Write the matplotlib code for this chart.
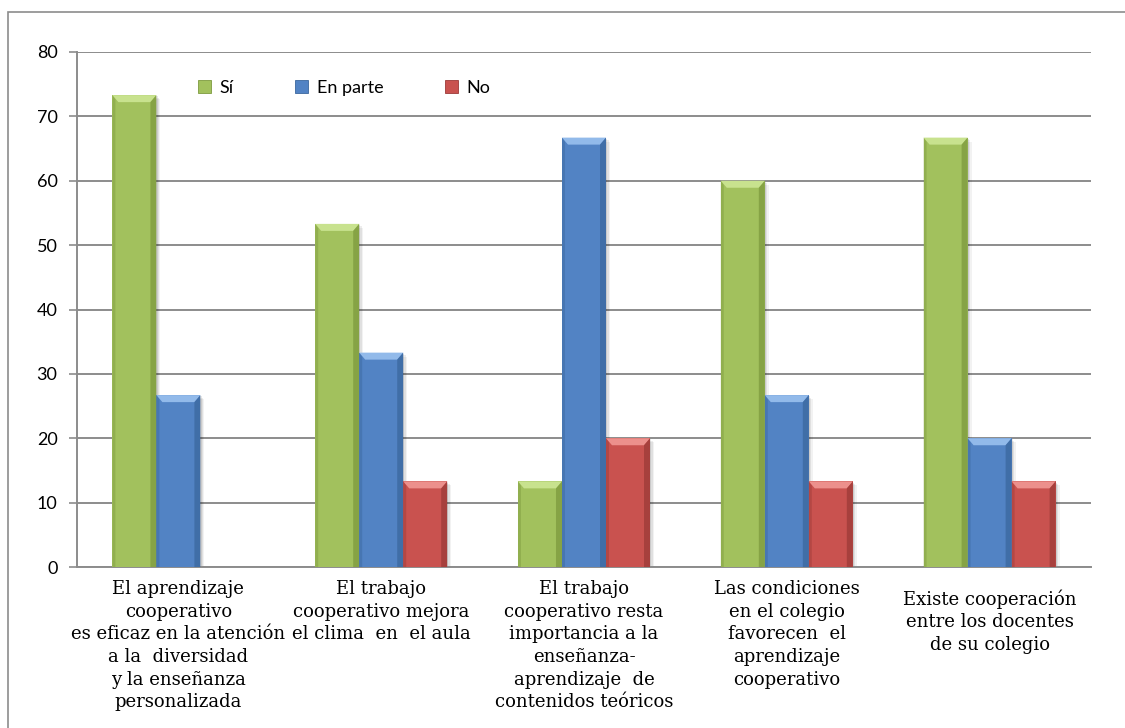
import numpy as np
import matplotlib
matplotlib.use("Agg")
import matplotlib.pyplot as plt
from matplotlib.patches import Polygon, Rectangle, Patch

# Survey answers (%) per statement
categorias = [
    "El aprendizaje\ncooperativo\nes eficaz en la atención\na la  diversidad\ny la enseñanza\npersonalizada",
    "El trabajo\ncooperativo mejora\nel clima  en  el aula",
    "El trabajo\ncooperativo resta\nimportancia a la\nenseñanza-\naprendizaje  de\ncontenidos teóricos",
    "Las condiciones\nen el colegio\nfavorecen  el\naprendizaje\ncooperativo",
    "Existe cooperación\nentre los docentes\nde su colegio",
]
si = [73.3, 53.3, 13.3, 60.0, 66.7]
en_parte = [26.7, 33.3, 66.7, 26.7, 20.0]
no = [0.0, 13.3, 20.0, 13.3, 13.3]
series_names = ["Sí", "En parte", "No"]
yticks = [0, 10, 20, 30, 40, 50, 60, 70, 80]

colors = ["#A2C15D", "#5283C4", "#C9524F"]
light = ["#C8E28E", "#92BAEA", "#EC908C"]
dark = ["#7D9A3E", "#3B679E", "#9C3A37"]

W, H = 1125, 728
fig = plt.figure(figsize=(W / 100, H / 100), dpi=100)
ax = fig.add_axes([77 / W, 1 - 567 / H, (1091 - 77) / W, (567 - 52) / H])

# outer chart frame (right/bottom edges fall outside the image)
fig.patches.append(Rectangle((8 / W, -0.1), 1.2, 1 - 12 / H + 0.1,
                             transform=fig.transFigure, fill=False,
                             edgecolor="#8C8C8C", linewidth=1.2))

x = np.arange(len(categorias))
bw = 0.217
px_x = 1.0 / 202.8          # one pixel in x data units
px_y = 80.0 / 515           # one pixel in y data units
bx, by = 6 * px_x, 7 * px_y


def bevel_bar(x0, h, i):
    """Draw one bar with a bevelled top and shaded sides."""
    if h <= 0:
        return
    x1 = x0 + bw
    # soft shadow on the right
    for k, a in [(4, 0.05), (2.5, 0.07), (1.2, 0.09)]:
        ax.add_patch(Rectangle((x0 + k * px_x, 0), bw, h - k * px_y,
                               facecolor="black", alpha=a, linewidth=0, zorder=2))
    ax.bar(x0, h, bw, align="edge", color=colors[i], linewidth=0, zorder=3)
    top = Polygon([(x0, h), (x1, h), (x1 - bx, h - by), (x0 + bx, h - by)],
                  closed=True, facecolor=light[i], linewidth=0, zorder=4)
    left = Polygon([(x0, 0), (x0 + bx * 0.5, 0), (x0 + bx * 0.5, h - by * 0.6), (x0, h)],
                   closed=True, facecolor=dark[i], alpha=0.45, linewidth=0, zorder=4)
    right = Polygon([(x1 - bx, 0), (x1, 0), (x1, h), (x1 - bx, h - by)],
                    closed=True, facecolor=dark[i], alpha=0.75, linewidth=0, zorder=4)
    for p in (top, left, right):
        ax.add_patch(p)


for i, vals in enumerate([si, en_parte, no]):
    for j, v in enumerate(vals):
        bevel_bar(x[j] - 1.5 * bw + i * bw, v, i)

ax.set_xlim(-0.5, len(categorias) - 0.5)
ax.set_ylim(0, 80)
ax.set_yticks(yticks)
ax.set_yticklabels([str(t) for t in yticks], fontsize=13, family="Lato")
ax.tick_params(axis="y", length=6, width=1.2, color="#8C8C8C", pad=8)
ax.grid(axis="y", color="#8C8C8C", linewidth=1.4, zorder=0)
ax.set_axisbelow(True)
for side in ["top", "right"]:
    ax.spines[side].set_visible(False)
ax.spines["left"].set_color("#8C8C8C")
ax.spines["left"].set_linewidth(1.4)
ax.spines["bottom"].set_color("#8C8C8C")
ax.spines["bottom"].set_linewidth(1.4)
ax.set_xticks(x)
ax.set_xticklabels([])
ax.tick_params(axis="x", length=0)

# category labels; the last one sits a little lower
offsets = [-9.5, -9.5, -9.5, -9.5, -16]
for j, lab in enumerate(categorias):
    ax.annotate(lab, (x[j], 0), xytext=(0, offsets[j]), textcoords="offset points",
                ha="center", va="top", fontsize=13, family="DejaVu Serif",
                linespacing=1.33, annotation_clip=False)

handles = [Patch(facecolor=colors[i], edgecolor=dark[i], linewidth=0.6)
           for i in range(3)]
ax.legend(handles, series_names, loc="center left", bbox_to_anchor=(0.103, 0.93),
          ncol=3, frameon=False, prop={"family": "Lato", "size": 13},
          handlelength=0.75, handleheight=0.75, handletextpad=0.45,
          columnspacing=3.4)

fig.savefig("out.png", dpi=100)
